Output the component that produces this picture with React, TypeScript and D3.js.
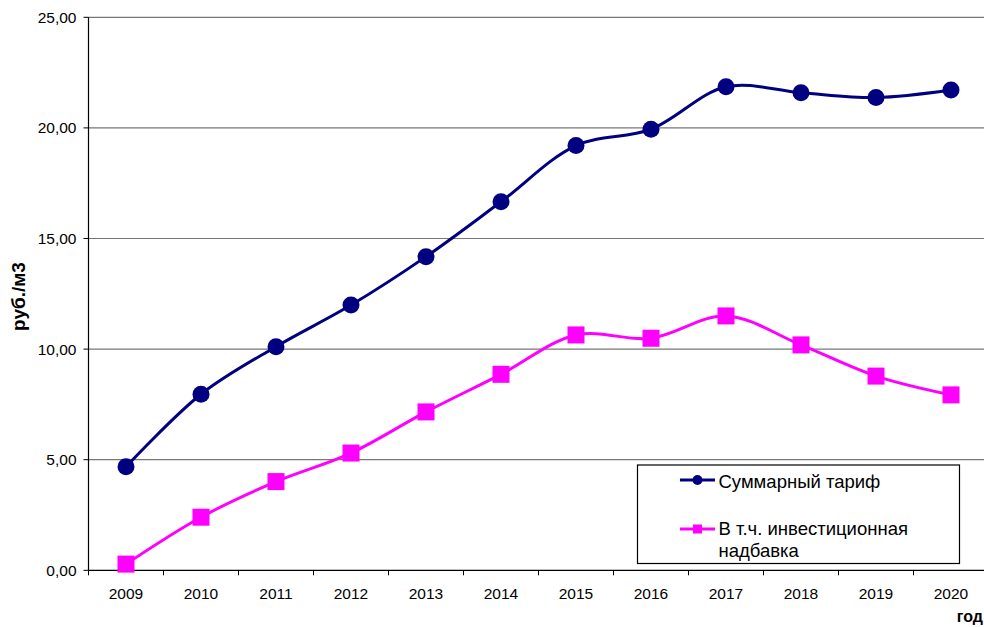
import React from "react";
import * as d3 from "d3";

const years = ["2009", "2010", "2011", "2012", "2013", "2014", "2015", "2016", "2017", "2018", "2019", "2020"];
const totalTariff = [4.68, 7.96, 10.11, 11.99, 14.18, 16.66, 19.2, 19.94, 21.86, 21.59, 21.37, 21.71];
const investment = [0.28, 2.4, 4.01, 5.3, 7.16, 8.86, 10.64, 10.49, 11.5, 10.19, 8.78, 7.93];
const yTicks = [0, 5, 10, 15, 20, 25];
const seriesNames = ["Суммарный тариф", "В т.ч. инвестиционная", "надбавка"];

const W = 984;
const H = 627;
const left = 88.5;
const right = 988.5;
const top = 17.3;
const bottom = 570.3;
const FONT = "'Liberation Sans', Arial, sans-serif";

export default function App() {
  const x = d3.scaleBand<string>().domain(years).range([left, right]);
  const y = d3.scaleLinear().domain([0, 25]).range([bottom, top]);
  const cx = (i: number) => (x(years[i]) as number) + x.bandwidth() / 2;
  const line = d3
    .line<number>()
    .x((_, i) => cx(i))
    .y((d) => y(d))
    .curve(d3.curveCatmullRom.alpha(0.5));
  const fmt = (v: number) => v.toFixed(2).replace(".", ",");
  const sq = 17;

  return (
    <svg width={W} height={H} style={{ position: "absolute", left: 0, top: 0, background: "#fff" }} fontFamily={FONT}>
      {yTicks.map((t) => (
        <g key={t}>
          {t > 0 && <line x1={left} x2={right} y1={y(t)} y2={y(t)} stroke="#777" strokeWidth={1.2} />}
          <line x1={left - 5} x2={left} y1={y(t)} y2={y(t)} stroke="#000" />
          <text x={76.5} y={y(t) + 5.5} textAnchor="end" fontSize={15.5} fill="#000">
            {fmt(t)}
          </text>
        </g>
      ))}
      <line x1={left} x2={left} y1={top} y2={bottom} stroke="#000" strokeWidth={1.2} />
      <line x1={left} x2={right} y1={bottom} y2={bottom} stroke="#000" strokeWidth={1.2} />
      {years.map((yr, i) => (
        <g key={yr}>
          <line x1={x(yr) as number} x2={x(yr) as number} y1={bottom} y2={bottom + 5} stroke="#000" />
          <text x={cx(i)} y={599} textAnchor="middle" fontSize={15.5} fill="#000">
            {yr}
          </text>
        </g>
      ))}
      <line x1={right} x2={right} y1={bottom} y2={bottom + 5} stroke="#000" />

      <path d={line(totalTariff) || ""} fill="none" stroke="#000080" strokeWidth={3} />
      <path d={line(investment) || ""} fill="none" stroke="#FF00FF" strokeWidth={3} />
      {totalTariff.map((v, i) => (
        <circle key={"c" + i} cx={cx(i)} cy={y(v)} r={8.5} fill="#000080" />
      ))}
      {investment.map((v, i) => (
        <rect key={"s" + i} x={cx(i) - sq / 2} y={y(v) - sq / 2} width={sq} height={sq} fill="#FF00FF" />
      ))}

      <text transform="translate(25,296.5) rotate(-90)" textAnchor="middle" fontSize={19} fontWeight="bold" fill="#000">
        руб./м3
      </text>
      <text x={983} y={621.7} textAnchor="end" fontSize={16} fontWeight="bold" fill="#000">
        год
      </text>

      <rect x={637.5} y={465} width={322} height={98.5} fill="#fff" stroke="#000" strokeWidth={1.2} />
      <line x1={680} x2={715} y1={480} y2={480} stroke="#000080" strokeWidth={3} />
      <circle cx={697.5} cy={480} r={5} fill="#000080" />
      <text x={718.5} y={487.5} fontSize={18.5} fill="#000">
        {seriesNames[0]}
      </text>
      <line x1={680} x2={715} y1={529} y2={529} stroke="#FF00FF" strokeWidth={3} />
      <rect x={693} y={524.5} width={9} height={9} fill="#FF00FF" />
      <text x={718.5} y={534.5} fontSize={18.5} fill="#000">
        {seriesNames[1]}
      </text>
      <text x={718.5} y={556.7} fontSize={18.5} fill="#000">
        {seriesNames[2]}
      </text>
    </svg>
  );
}
